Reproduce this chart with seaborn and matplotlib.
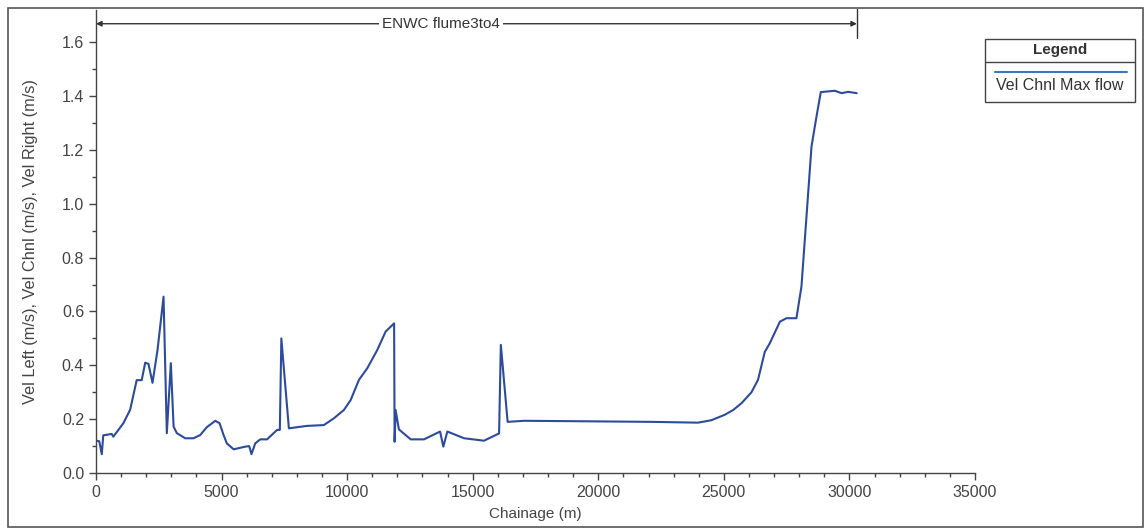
import matplotlib
matplotlib.use("Agg")
import matplotlib.pyplot as plt
from matplotlib.patches import Rectangle
from matplotlib.lines import Line2D
import seaborn as sns
import pandas as pd

chainage = [0, 130, 230, 290, 625, 690, 1090, 1360, 1620, 1820, 1960, 2090, 2250, 2450,
            2690, 2820, 2980, 3090, 3220, 3550, 3880, 4150, 4410, 4750, 4920, 5080,
            5210, 5480, 5950, 6100, 6190, 6340, 6540, 6810, 7210, 7320, 7380, 7680,
            8400, 9070, 9470, 9870, 10140, 10470, 10800, 11200, 11530, 11870, 11890,
            11930, 12060, 12530, 13060, 13700, 13830, 13990, 14660, 15450, 16050,
            16120, 16390, 17050, 22100, 23970, 24500, 25030, 25370, 25700, 26100,
            26360, 26630, 26830, 27230, 27490, 27890, 28090, 28490, 28690, 28860,
            29420, 29690, 29950, 30290]
vel_chnl = [0.12, 0.118, 0.07, 0.14, 0.145, 0.135, 0.185, 0.235, 0.345, 0.345, 0.41,
            0.405, 0.335, 0.457, 0.655, 0.148, 0.408, 0.172, 0.148, 0.129, 0.129, 0.141,
            0.17, 0.194, 0.185, 0.141, 0.11, 0.088, 0.098, 0.10, 0.07, 0.11, 0.125,
            0.125, 0.16, 0.16, 0.50, 0.166, 0.175, 0.178, 0.203, 0.234, 0.271, 0.346,
            0.389, 0.457, 0.525, 0.556, 0.116, 0.234, 0.162, 0.125, 0.125, 0.154, 0.098,
            0.154, 0.129, 0.12, 0.147, 0.476, 0.19, 0.194, 0.19, 0.187, 0.196, 0.216,
            0.234, 0.259, 0.30, 0.346, 0.45, 0.482, 0.562, 0.575, 0.575, 0.693, 1.213,
            1.325, 1.415, 1.42, 1.411, 1.416, 1.411]
x_ticks = [0, 5000, 10000, 15000, 20000, 25000, 30000, 35000]
y_ticks = [0.0, 0.2, 0.4, 0.6, 0.8, 1.0, 1.2, 1.4, 1.6]
series_name = "Vel Chnl Max flow"
bracket_label = "ENWC flume3to4"
bracket_end = 30300

sns.set_theme(style="ticks")
plt.rcParams['font.family'] = ['Liberation Sans', 'DejaVu Sans']

W, H = 1148, 531
fig = plt.figure(figsize=(W / 100, H / 100), dpi=100)
ax = fig.add_axes([96 / W, 1 - 473 / H, (975 - 96) / W, (473 - 10) / H])

df = pd.DataFrame({"Chainage (m)": chainage, "vel": vel_chnl})
line_col = "#2d4b9c"
sns.lineplot(data=df, x="Chainage (m)", y="vel", ax=ax, color=line_col, lw=1.5,
             sort=False, estimator=None)

ax.set_xlim(0, 35000)
ax.set_ylim(0, 1.72)
ax.set_xticks(x_ticks)
ax.set_xticklabels([str(v) for v in x_ticks])
ax.set_yticks(y_ticks)
ax.set_yticklabels([f"{v:.1f}" for v in y_ticks])
ax.set_xticks(range(0, 35001, 1000), minor=True)
ax.set_yticks([i / 10 for i in range(0, 17)], minor=True)
ax.tick_params(which="major", length=5, width=1, color="#444", labelsize=11.5,
               labelcolor="#444", direction="out")
ax.tick_params(which="minor", length=3, width=1, color="#444", direction="out")
for s in ["top", "right"]:
    ax.spines[s].set_visible(False)
for s in ["left", "bottom"]:
    ax.spines[s].set_color("#444")
    ax.spines[s].set_linewidth(1.0)
ax.set_xlabel("Chainage (m)", fontsize=11, color="#444", labelpad=5)
ax.set_ylabel("Vel Left (m/s), Vel Chnl (m/s), Vel Right (m/s)", fontsize=11.8,
              color="#444", labelpad=17)
ax.set_facecolor("white")

# top bracket
yb = 1.669
ax.annotate("", xy=(0, yb), xytext=(bracket_end, yb),
            arrowprops=dict(arrowstyle="<|-|>", color="#333", lw=1.0,
                            mutation_scale=8, shrinkA=0, shrinkB=0),
            annotation_clip=False)
ax.text(13730, yb, bracket_label, ha="center", va="center", fontsize=11, color="#333",
        bbox=dict(facecolor="white", edgecolor="none", pad=2), clip_on=False)
ax.plot([bracket_end, bracket_end], [1.617, 1.725], color="#333", lw=1.0, clip_on=False)

# legend (manual, box with title, line sample above text)
def fx(px):
    return px / W

def fy(py):
    return 1 - py / H

fig.patches.append(Rectangle((fx(985), fy(102)), fx(1135) - fx(985), fy(39) - fy(102),
                             transform=fig.transFigure, fill=False, edgecolor="#444",
                             lw=1.0))
fig.lines.append(Line2D([fx(985), fx(1135)], [fy(62), fy(62)], transform=fig.transFigure,
                        color="#444", lw=1.0))
fig.lines.append(Line2D([fx(995), fx(1127)], [fy(71.5), fy(71.5)], transform=fig.transFigure,
                        color="#3a78c0", lw=1.5))
fig.text(fx(1060), fy(50), "Legend", ha="center", va="center", fontsize=11,
         fontweight="bold", color="#333")
fig.text(fx(1060), fy(86), series_name, ha="center", va="center", fontsize=11.5,
         color="#333")

# outer frame
fig.patches.append(Rectangle((fx(8), fy(527)), fx(1143) - fx(8), fy(8) - fy(527),
                             transform=fig.transFigure, fill=False, edgecolor="#555",
                             lw=1.2))

fig.savefig("out.png", dpi=100)
